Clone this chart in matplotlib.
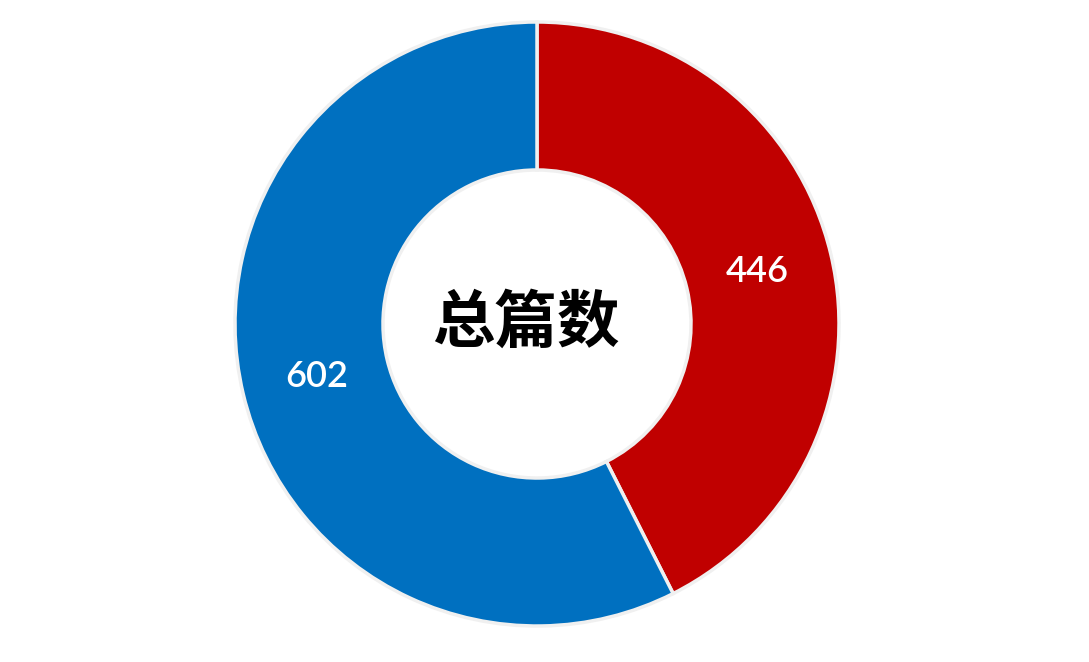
import matplotlib
matplotlib.use("Agg")
import matplotlib.pyplot as plt

labels = ["446", "602"]
values = [446, 602]
colors = ["#C00000", "#0070C0"]
center_text = "总篇数"

W, H = 1089, 662
fig = plt.figure(figsize=(W / 100, H / 100), dpi=100)
ax = fig.add_axes([0, 0, 1, 1])
ax.set_xlim(0, W); ax.set_ylim(0, H)
ax.set_aspect("equal")
ax.axis("off")

cx, cy, R = 537, H - 324, 302
wedges, texts = ax.pie(values, labels=labels, colors=colors, startangle=90, counterclock=False,
                       center=(cx, cy), radius=R, labeldistance=0.75,
                       wedgeprops=dict(width=R * 0.49, edgecolor="#F0F0F0", linewidth=2.5),
                       textprops=dict(color="white", fontsize=26, fontweight="semibold",
                                      family=["Lato", "DejaVu Sans"]))
for t in texts:
    t.set_ha("center"); t.set_va("center")
ax.set_xlim(0, W); ax.set_ylim(0, H)

ax.text(cx - 11, cy + 1, center_text, ha="center", va="center", fontsize=45, fontweight="bold",
        family=["Noto Sans CJK SC", "DejaVu Sans"], color="black")

fig.savefig("out.png", dpi=100)
